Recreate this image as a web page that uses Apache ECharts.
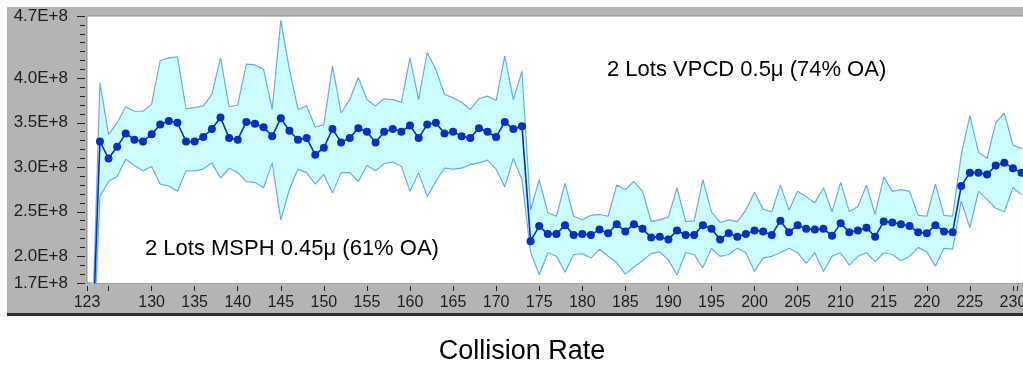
<!DOCTYPE html>
<html>
<head>
<meta charset="utf-8">
<script src="https://cdn.jsdelivr.net/npm/echarts@6/dist/echarts.min.js"></script>
<style>
  html, body { margin: 0; padding: 0; background: #fff; overflow: hidden; }
  #chart { width: 1060px; height: 371px; }
</style>
</head>
<body>
<div id="chart"></div>
<script>
// Collision rate per point, in units of 1E+8. Band = upper/lower limits, dots = mean.
const collisionX = [
  123, 124, 125, 126, 127, 128, 129, 130, 131, 132,
  133, 134, 135, 136, 137, 138, 139, 140, 141, 142,
  143, 144, 145, 146, 147, 148, 149, 150, 151, 152,
  153, 154, 155, 156, 157, 158, 159, 160, 161, 162,
  163, 164, 165, 166, 167, 168, 169, 170, 171, 172,
  173, 174, 175, 176, 177, 178, 179, 180, 181, 182,
  183, 184, 185, 186, 187, 188, 189, 190, 191, 192,
  193, 194, 195, 196, 197, 198, 199, 200, 201, 202,
  203, 204, 205, 206, 207, 208, 209, 210, 211, 212,
  213, 214, 215, 216, 217, 218, 219, 220, 221, 222,
  223, 224, 225, 226, 227, 228, 229, 230, 231
];
const meanRate = [
  0.66, 3.29, 3.10, 3.23, 3.38, 3.31, 3.29, 3.37, 3.48, 3.52,
  3.50, 3.29, 3.29, 3.34, 3.43, 3.56, 3.33, 3.31, 3.51, 3.49,
  3.45, 3.35, 3.55, 3.41, 3.31, 3.33, 3.14, 3.22, 3.43, 3.28,
  3.33, 3.44, 3.40, 3.28, 3.40, 3.43, 3.40, 3.47, 3.33, 3.48,
  3.50, 3.38, 3.40, 3.35, 3.33, 3.44, 3.40, 3.34, 3.51, 3.43,
  3.46, 2.17, 2.34, 2.25, 2.25, 2.35, 2.24, 2.25, 2.24, 2.30,
  2.26, 2.36, 2.28, 2.36, 2.31, 2.21, 2.22, 2.19, 2.29, 2.24,
  2.24, 2.35, 2.31, 2.19, 2.26, 2.22, 2.25, 2.29, 2.28, 2.24,
  2.40, 2.27, 2.35, 2.31, 2.30, 2.31, 2.23, 2.37, 2.27, 2.29,
  2.32, 2.22, 2.39, 2.38, 2.36, 2.34, 2.27, 2.26, 2.35, 2.28,
  2.27, 2.79, 2.94, 2.94, 2.92, 3.02, 3.05, 2.99, 2.94
];
const upperRate = [
  0.80, 3.95, 3.37, 3.50, 3.68, 3.63, 3.63, 3.71, 4.20, 4.23,
  4.24, 3.66, 3.67, 3.69, 3.82, 4.23, 3.68, 3.70, 4.16, 4.15,
  4.10, 3.65, 4.65, 4.10, 3.65, 3.69, 3.45, 3.48, 4.14, 3.61,
  3.76, 4.01, 3.76, 3.69, 3.77, 3.76, 3.73, 4.23, 3.76, 4.29,
  4.10, 3.82, 3.78, 3.73, 3.65, 3.77, 3.80, 3.75, 4.25, 3.76,
  4.08, 2.52, 2.86, 2.49, 2.45, 2.82, 2.45, 2.41, 2.46, 2.47,
  2.45, 2.80, 2.75, 2.84, 2.73, 2.39, 2.41, 2.44, 2.77, 2.39,
  2.40, 2.86, 2.50, 2.38, 2.41, 2.39, 2.52, 2.72, 2.53, 2.50,
  2.80, 2.52, 2.73, 2.67, 2.60, 2.77, 2.50, 2.83, 2.50, 2.56,
  2.80, 2.47, 2.89, 2.73, 2.75, 2.73, 2.46, 2.45, 2.81, 2.46,
  2.45, 3.14, 3.58, 3.17, 3.10, 3.50, 3.61, 3.25, 3.21
];
const lowerRate = [
  0.50, 2.67, 2.84, 2.90, 3.09, 3.02, 2.96, 3.01, 2.81, 2.79,
  2.73, 2.96, 2.96, 2.98, 3.05, 2.88, 2.99, 2.94, 2.84, 2.83,
  2.77, 3.05, 2.41, 2.75, 2.98, 2.94, 2.81, 2.92, 2.71, 2.94,
  2.94, 2.84, 3.02, 2.96, 3.04, 3.06, 3.01, 2.73, 2.94, 2.67,
  2.84, 2.99, 2.98, 2.99, 3.03, 3.05, 3.08, 2.98, 2.78, 3.10,
  2.86, 2.05, 1.79, 2.04, 2.00, 1.82, 2.02, 2.03, 1.98, 2.08,
  2.00, 1.93, 1.80, 1.88, 1.95, 2.03, 2.05, 1.96, 1.79, 2.04,
  2.02, 1.87, 2.09, 2.00, 2.02, 2.09, 2.04, 1.83, 1.98, 2.00,
  2.04, 2.09, 2.04, 1.92, 2.04, 1.83, 2.00, 2.04, 1.90, 2.00,
  2.04, 1.94, 2.04, 2.02, 1.95, 2.00, 2.10, 2.05, 1.89, 2.09,
  2.08, 2.62, 2.32, 2.73, 2.64, 2.54, 2.50, 2.77, 2.69
];

// Axis ticks / labels as drawn in the original
const xLabelValues = [122.5, 130, 135, 140, 145, 150, 155, 160, 165, 170, 175, 180,
  185, 190, 195, 200, 205, 210, 215, 220, 225, 230];
const xTickValues = [122.5, 125, 130, 135, 140, 145, 150, 155, 160, 165, 170, 175, 180,
  185, 190, 195, 200, 205, 210, 215, 220, 225, 230, 230.5];
const yLabelValues = [1.7, 2.0, 2.5, 3.0, 3.5, 4.0, 4.7];

const annotations = [
  { text: "2 Lots MSPH 0.45\u03bc (61% OA)", x: 145, y: 249 },
  { text: "2 Lots VPCD 0.5\u03bc (74% OA)", x: 607, y: 70 },
];
const chartTitle = "Collision Rate";

const FONT = "'Liberation Sans', Arial, sans-serif";
const EDGE = "#6aa6ff";
const MEAN = "#0030cc";

const pairs = (ys) => collisionX.map((x, i) => [x, ys[i]]);

const chart = echarts.init(document.getElementById("chart"), null, { renderer: "canvas" });

chart.setOption({
  animation: false,
  backgroundColor: "#fff",
  grid: {
    left: 87, top: 16, width: 969, height: 267,
    show: true, backgroundColor: "#fff", borderColor: "#8c8c8c", borderWidth: 1,
  },
  xAxis: {
    type: "value",
    min: 122.5,
    max: 235,
    offset: 3,
    axisLine: { show: false },
    splitLine: { show: false },
    axisTick: { show: true, customValues: xTickValues, length: 5, lineStyle: { color: "#222" } },
    axisLabel: {
      customValues: xLabelValues,
      formatter: (v) => String(Math.round(v)),
      margin: 9,
      color: "#1e1e1e",
      fontFamily: FONT,
      fontSize: 16,
    },
  },
  yAxis: [
    {
      type: "value",
      min: 1.7,
      max: 4.7,
      position: "left",
      offset: 2,
      axisLine: { show: false },
      splitLine: { show: false },
      axisTick: { show: true, customValues: yLabelValues, length: 8, lineStyle: { color: "#222" } },
      axisLabel: {
        customValues: yLabelValues,
        formatter: (v) => v.toFixed(1) + "E+8",
        margin: 17,
        color: "#1e1e1e",
        fontFamily: FONT,
        fontSize: 17,
      },
    },
    {
      // minor ticks every 0.1E+8
      type: "value",
      min: 1.7,
      max: 4.7,
      interval: 0.1,
      position: "left",
      offset: 2,
      axisLine: { show: false },
      splitLine: { show: false },
      axisTick: { show: true, length: 5, lineStyle: { color: "#222" } },
      axisLabel: { show: false },
    },
  ],
  graphic: [
    { type: "rect", z: -10, shape: { x: 7, y: 7, width: 1060, height: 306 }, style: { fill: "#b4b4b4" } },
    { type: "rect", z: -9, shape: { x: 7, y: 313, width: 1060, height: 3 }, style: { fill: "#2e2e2e" } },
    ...annotations.map((a) => ({
      type: "text", z: 100, x: a.x, y: a.y,
      style: { text: a.text, fill: "#000", font: `22px ${FONT}`, textAlign: "left", textVerticalAlign: "middle" },
    })),
    {
      type: "text", z: 100, x: 522, y: 352,
      style: { text: chartTitle, fill: "#000", font: `27px ${FONT}`, textAlign: "center", textVerticalAlign: "middle" },
    },
  ],
  series: [
    {
      name: "upper",
      type: "line",
      z: 2,
      data: pairs(upperRate),
      symbol: "none",
      lineStyle: { color: EDGE, width: 1.2 },
      areaStyle: { color: "#ccffff", opacity: 1, origin: "start" },
      clip: true,
    },
    {
      // white fill below the lower limit closes the band
      name: "lower",
      type: "line",
      z: 3,
      data: pairs(lowerRate),
      symbol: "none",
      lineStyle: { color: EDGE, width: 1.2 },
      areaStyle: { color: "#fff", opacity: 1, origin: "start" },
      clip: true,
    },
    {
      name: "mean",
      type: "line",
      z: 4,
      data: pairs(meanRate),
      symbol: "circle",
      symbolSize: 8,
      showAllSymbol: true,
      itemStyle: { color: MEAN },
      lineStyle: { color: MEAN, width: 1.6 },
      clip: true,
    },
  ],
});
</script>
</body>
</html>
